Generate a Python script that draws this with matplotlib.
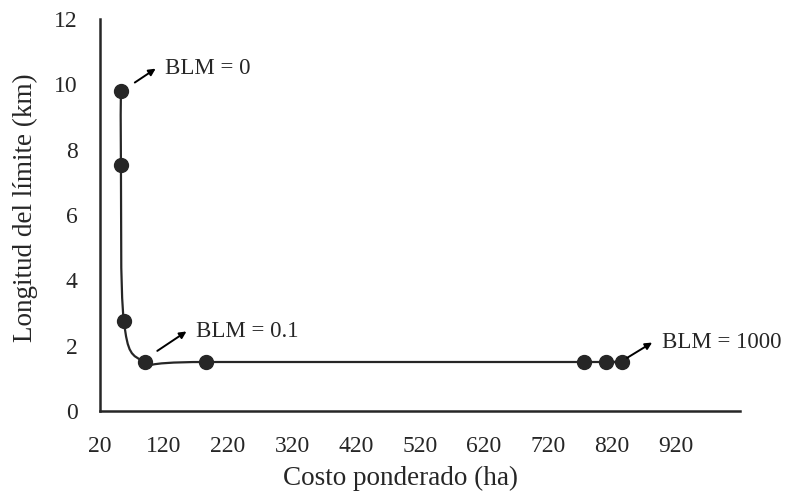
import numpy as np
import matplotlib.pyplot as plt
from matplotlib.path import Path
from matplotlib.patches import PathPatch

# values
costo = [52.7, 52.7, 57.3, 90, 185, 777, 810, 835]
longitud = [9.8, 7.53, 2.75, 1.5, 1.5, 1.5, 1.5, 1.5]
xticks = [20, 120, 220, 320, 420, 520, 620, 720, 820, 920]
yticks = [0, 2, 4, 6, 8, 10, 12]

# annotations: (text, point index)
notas = [("BLM = 0", 0), ("BLM = 0.1", 3), ("BLM = 1000", 7)]

plt.rcParams['font.family'] = ['Liberation Serif', 'DejaVu Serif']
ink = '#262626'

fig = plt.figure(figsize=(7.87, 5.04), dpi=100)
ax = fig.add_axes([100 / 787, 93 / 504, 640 / 787, 392 / 504])
ax.set_xlim(20, 1020)
ax.set_ylim(0, 12)


def smooth_path(x, y, ax, t=1 / 6):
    # Excel-like smoothed line: Bezier segments built in display space
    pts = ax.transData.transform(np.column_stack([x, y]))
    verts = [pts[0]]
    codes = [Path.MOVETO]
    n = len(pts)
    for i in range(n - 1):
        p0 = pts[i - 1] if i > 0 else pts[i]
        p1, p2 = pts[i], pts[i + 1]
        p3 = pts[i + 2] if i + 2 < n else pts[i + 1]
        c1 = p1 + (p2 - p0) * t
        c2 = p2 - (p3 - p1) * t
        verts += [c1, c2, p2]
        codes += [Path.CURVE4] * 3
    inv = ax.transData.inverted()
    return Path(inv.transform(np.array(verts)), codes)


ax.add_patch(PathPatch(smooth_path(costo, longitud, ax), fill=False,
                       edgecolor=ink, linewidth=1.6, zorder=2))
ax.plot(costo, longitud, linestyle='none', marker='o', markersize=10,
        color=ink, zorder=3)

# arrow start / end offsets from the point, in points
offsets = {0: ((10, 6), (25, 16)), 3: ((9, 8), (30, 22)), 7: ((4, 3), (22, 14))}
for label, i in notas:
    (sx, sy), (ex, ey) = offsets[i]
    base = ax.transData.transform((costo[i], longitud[i]))
    start = ax.transData.inverted().transform(base + np.array([sx, sy]) * 100 / 72)
    end = ax.transData.inverted().transform(base + np.array([ex, ey]) * 100 / 72)
    ax.annotate('', xy=end, xytext=start,
                arrowprops=dict(arrowstyle='-|>', color='black', lw=1.4,
                                mutation_scale=10, shrinkA=0, shrinkB=0))
    ax.annotate(label, xy=end, xytext=(7, 0), textcoords='offset points',
                fontsize=16.5, color=ink, va='center', ha='left')

ax.set_xticks(xticks)
ax.set_yticks(yticks)
ax.tick_params(length=0, labelsize=17, labelcolor=ink)
ax.tick_params(axis='x', pad=18)
ax.tick_params(axis='y', pad=16)
for s in ['top', 'right']:
    ax.spines[s].set_visible(False)
for s in ['left', 'bottom']:
    ax.spines[s].set_linewidth(1.8)
    ax.spines[s].set_color(ink)

ax.set_xlabel('Costo ponderado (ha)', fontsize=19.5, color=ink, va='center')
ax.set_ylabel('Longitud del límite (km)', fontsize=19.5, color=ink, va='center')
ax.xaxis.set_label_coords(0.469, -0.172)
ax.yaxis.set_label_coords(-0.117, 0.518)

fig.savefig('out.png', dpi=100)
